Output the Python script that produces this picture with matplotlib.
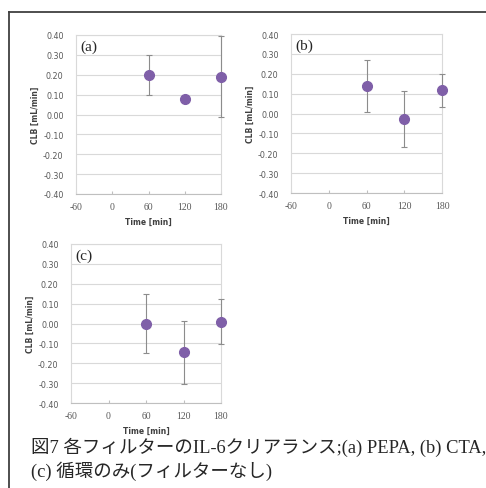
import matplotlib
matplotlib.use("Agg")
import matplotlib.pyplot as plt
from matplotlib.lines import Line2D

plt.rcParams["axes.unicode_minus"] = False

# データ
times = [60, 120, 180]
a_vals = [0.20, 0.078, 0.19]
a_err = [0.10, 0.0, 0.205]
b_vals = [0.14, -0.027, 0.118]
b_err = [0.13, 0.142, 0.083]
c_vals = [0.00, -0.145, 0.01]
c_err = [0.15, 0.16, 0.115]
panel_names = ["(a)", "(b)", "(c)"]
x_ticks = [-60, 0, 60, 120, 180]
y_ticks = [-0.4, -0.3, -0.2, -0.1, 0.0, 0.1, 0.2, 0.3, 0.4]
caption_lines = ["図7 各フィルターのIL-6クリアランス;(a) PEPA, (b) CTA,",
                 "(c) 循環のみ(フィルターなし)"]

W, H = 486, 489
fig = plt.figure(figsize=(W / 100, H / 100), dpi=100)


def box(left, right, top, bottom):
    # ピクセル座標から図座標へ
    return [left / W, 1 - bottom / H, (right - left) / W, (bottom - top) / H]


purple = "#7F5FA8"
grid_c = "#D9D9D9"
text_c = "#595959"

positions = [box(76, 221, 36, 195), box(291, 442, 35, 194), box(71, 221, 245, 404)]
datasets = [(a_vals, a_err), (b_vals, b_err), (c_vals, c_err)]

for pos, (vals, errs), name in zip(positions, datasets, panel_names):
    ax = fig.add_axes(pos)
    ax.errorbar(times, vals, yerr=errs, fmt="o", color=purple, markersize=7,
                ecolor="#8C8C8C", elinewidth=0.8, capsize=2, capthick=0.8,
                zorder=3, clip_on=False)
    ax.set_xlim(-60, 180)
    ax.set_ylim(-0.4, 0.4)
    ax.set_xticks(x_ticks)
    ax.set_yticks(y_ticks)
    ax.set_yticklabels([f"{v:.2f}" for v in y_ticks])
    ax.grid(axis="y", color=grid_c, linewidth=0.8)
    ax.set_axisbelow(True)
    for s in ax.spines.values():
        s.set_color(grid_c)
        s.set_linewidth(0.8)
    ax.spines["bottom"].set_color("#BFBFBF")
    ax.tick_params(axis="y", length=0, labelsize=5.8, labelcolor=text_c, pad=9)
    ax.tick_params(axis="x", direction="in", length=2, color="#BFBFBF",
                   labelsize=7, labelcolor=text_c, pad=6)
    for lab in ax.get_xticklabels():
        lab.set_family("Liberation Serif")
    ax.set_xlabel("Time [min]", fontsize=5.5, fontweight="bold", color="#404040", labelpad=4)
    ax.set_ylabel("CLB [mL/min]", fontsize=5.5, fontweight="bold", color="#404040", labelpad=2)
    ax.text(0.03, 0.97, name, transform=ax.transAxes, ha="left", va="top",
            fontsize=11, family="Liberation Serif", color="#262626")

# 外枠（左と上の線）
fig.add_artist(Line2D([9 / W, 9 / W], [1 - 13 / H, 0], color="#404040", linewidth=1.3))
fig.add_artist(Line2D([9 / W, 1], [1 - 13 / H, 1 - 13 / H], color="#404040", linewidth=1.3))

# キャプション
for i, line in enumerate(caption_lines):
    fig.text(31 / W, 1 - (447 + 24 * i) / H, line, ha="left", va="center",
             fontsize=13.3, color="#262626",
             family=["Liberation Serif", "Noto Sans CJK JP"])

fig.savefig("out.png", dpi=100)
